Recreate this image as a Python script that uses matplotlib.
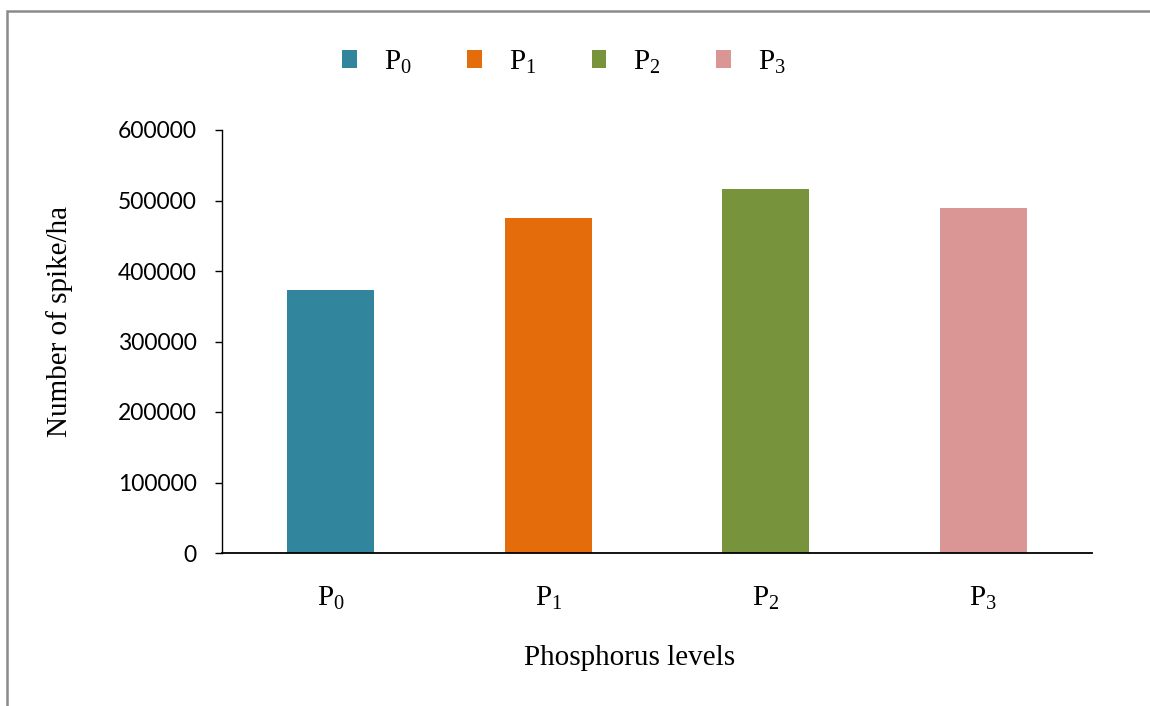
import matplotlib
matplotlib.use('Agg')
import matplotlib.pyplot as plt
from matplotlib.patches import Patch, Rectangle

# spikes per hectare for each phosphorus level
levels = [r'$\mathrm{P}_{0}$', r'$\mathrm{P}_{1}$', r'$\mathrm{P}_{2}$', r'$\mathrm{P}_{3}$']
spikes = [373000, 475600, 516300, 489400]
colors = ['#31859C', '#E46C0A', '#77933C', '#D99694']
yticks = [0, 100000, 200000, 300000, 400000, 500000, 600000]

plt.rcParams['mathtext.fontset'] = 'custom'
plt.rcParams['mathtext.rm'] = 'Liberation Serif'
plt.rcParams['mathtext.it'] = 'Liberation Serif:italic'

serif = 'Liberation Serif'

fig = plt.figure(figsize=(11.5, 7.06), dpi=100)
ax = fig.add_axes([222/1150, 1 - 553/706, 870/1150, 423/706])

x = range(len(levels))
ax.bar(x, spikes, width=0.4, color=colors, zorder=2)

ax.set_xlim(-0.5, 3.5)
ax.set_ylim(0, 600000)
ax.set_yticks(yticks)
ax.set_yticklabels([str(v) for v in yticks], fontfamily='Lato', fontsize=16.5)
ax.set_xticks(list(x))
ax.set_xticklabels(levels, fontfamily=serif, fontsize=21)

ax.tick_params(axis='x', length=0, pad=23)
ax.tick_params(axis='y', length=5, width=1, pad=13, direction='out')

for s in ['top', 'right']:
    ax.spines[s].set_visible(False)
ax.spines['left'].set_linewidth(1.0)
ax.spines['bottom'].set_linewidth(1.3)

ax.set_ylabel('Number of spike/ha', fontfamily=serif, fontsize=21)
ax.yaxis.set_label_coords(-0.171, 0.547)
ax.set_xlabel('Phosphorus levels', fontfamily=serif, fontsize=21)
ax.xaxis.set_label_coords(0.469, -0.2175)

handles = [Patch(facecolor=c, edgecolor='none', label=l) for c, l in zip(colors, levels)]
fig.legend(handles=handles, loc='center', bbox_to_anchor=(564/1150, 1 - 62/706),
           ncol=4, frameon=False, handlelength=0.5, handleheight=0.55,
           handletextpad=0.93, columnspacing=1.9,
           prop={'family': serif, 'size': 21})

# grey frame around the chart area
fig.add_artist(Rectangle((7/1150, -0.05), 2.0, 1.05 - 11/706, transform=fig.transFigure,
                         fill=False, edgecolor='#8a8a8a', linewidth=1.8))

fig.savefig('out.png', dpi=100)
